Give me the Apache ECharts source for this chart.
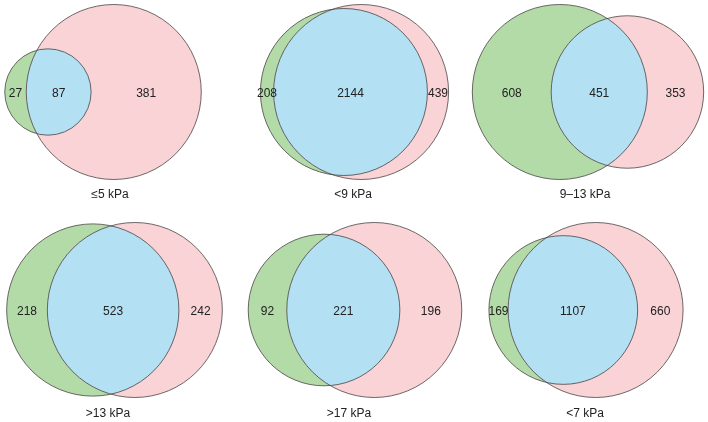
<!DOCTYPE html>
<html>
<head>
<meta charset="utf-8">
<script src="https://cdn.jsdelivr.net/npm/echarts@6/dist/echarts.min.js"></script>
<style>
html,body{margin:0;padding:0;background:#fff;}
#chart{width:708px;height:422px;}
</style>
</head>
<body>
<div id="chart"></div>
<script>
// ---- data ----
const panelLabels = ['≤5 kPa', '<9 kPa', '9–13 kPa', '>13 kPa', '>17 kPa', '<7 kPa'];
const leftOnly = [27, 208, 608, 218, 92, 169];
const both = [87, 2144, 451, 523, 221, 1107];
const rightOnly = [381, 439, 353, 242, 196, 660];

// ---- layout (positions in axis units) ----
const panelCenterX = [103, 354.5, 588, 114.5, 355, 586];
const panelCenterY = [92, 92, 92, 310, 310, 310];
const captionX = [110, 353, 585, 108, 349, 585];
const captionY = [195, 195, 195, 414, 414, 414];
const maxRadius = 87.5;

const GREEN = '#b3dba7', PINK = '#f9d3d5', BLUE = '#b3e0f3', EDGE = '#4a4444';

function lensArea(d, r1, r2) {
  if (d >= r1 + r2) return 0;
  if (d <= Math.abs(r1 - r2)) return Math.PI * Math.min(r1, r2) ** 2;
  const a1 = Math.acos((d * d + r1 * r1 - r2 * r2) / (2 * d * r1));
  const a2 = Math.acos((d * d + r2 * r2 - r1 * r1) / (2 * d * r2));
  const t = Math.sqrt((-d + r1 + r2) * (d + r1 - r2) * (d - r1 + r2) * (d + r1 + r2));
  return r1 * r1 * a1 + r2 * r2 * a2 - 0.5 * t;
}

function layout(i) {
  const n1 = leftOnly[i] + both[i], n2 = rightOnly[i] + both[i];
  const nmax = Math.max(n1, n2);
  const r1 = maxRadius * Math.sqrt(n1 / nmax);
  const r2 = maxRadius * Math.sqrt(n2 / nmax);
  const target = Math.PI * maxRadius * maxRadius * both[i] / nmax;
  let lo = Math.abs(r1 - r2) + 1e-6, hi = r1 + r2 - 1e-6;
  for (let k = 0; k < 80; k++) {
    const mid = (lo + hi) / 2;
    if (lensArea(mid, r1, r2) > target) lo = mid; else hi = mid;
  }
  const d = (lo + hi) / 2;
  const left = Math.min(-r1, d - r2), right = Math.max(r1, d + r2);
  const c1 = panelCenterX[i] - (left + right) / 2;
  const c2 = c1 + d;
  return { r1, r2, c1, c2, d, cy: panelCenterY[i] };
}

const seriesData = panelLabels.map((_, i) => [panelCenterX[i], panelCenterY[i], i]);

function renderItem(params, api) {
  const i = api.value(2);
  const L = layout(i);
  const p1 = api.coord([L.c1, L.cy]);
  const p2 = api.coord([L.c2, L.cy]);
  const pr1 = api.size([L.r1, 0])[0];
  const pr2 = api.size([L.r2, 0])[0];
  const dd = p2[0] - p1[0];
  // lens polygon
  const cos1 = (dd * dd + pr1 * pr1 - pr2 * pr2) / (2 * dd * pr1);
  const cos2 = (dd * dd + pr2 * pr2 - pr1 * pr1) / (2 * dd * pr2);
  const t1 = Math.acos(Math.max(-1, Math.min(1, cos1)));
  const t2 = Math.acos(Math.max(-1, Math.min(1, cos2)));
  const pts = [];
  const steps = 120;
  for (let k = 0; k <= steps; k++) {
    const a = -t1 + 2 * t1 * k / steps;
    pts.push([p1[0] + pr1 * Math.cos(a), p1[1] + pr1 * Math.sin(a)]);
  }
  for (let k = 0; k <= steps; k++) {
    const a = Math.PI - t2 + 2 * t2 * k / steps;
    pts.push([p2[0] + pr2 * Math.cos(a), p2[1] + pr2 * Math.sin(a)]);
  }
  const font = '12px "Liberation Sans", Arial, sans-serif';
  const ty = api.coord([0, L.cy + 2])[1];
  const xa = api.coord([( (L.c1 - L.r1) + (L.c2 - L.r2) ) / 2, 0])[0];
  const xb = api.coord([( (L.c2 - L.r2) + (L.c1 + L.r1) ) / 2, 0])[0];
  const xc = api.coord([( (L.c1 + L.r1) + (L.c2 + L.r2) ) / 2, 0])[0];
  const cap = api.coord([captionX[i], captionY[i]]);
  const txt = (x, y, s) => ({
    type: 'text',
    style: { x: x, y: y, text: s, font: font, fill: '#222', align: 'center', verticalAlign: 'middle' }
  });
  return {
    type: 'group',
    children: [
      { type: 'circle', shape: { cx: p1[0], cy: p1[1], r: pr1 }, style: { fill: GREEN } },
      { type: 'circle', shape: { cx: p2[0], cy: p2[1], r: pr2 }, style: { fill: PINK } },
      { type: 'polygon', shape: { points: pts }, style: { fill: BLUE } },
      { type: 'circle', shape: { cx: p1[0], cy: p1[1], r: pr1 }, style: { fill: 'none', stroke: EDGE, lineWidth: 0.8 } },
      { type: 'circle', shape: { cx: p2[0], cy: p2[1], r: pr2 }, style: { fill: 'none', stroke: EDGE, lineWidth: 0.8 } },
      txt(xa, ty, String(leftOnly[i])),
      txt(xb, ty, String(both[i])),
      txt(xc, ty, String(rightOnly[i])),
      txt(cap[0], cap[1], panelLabels[i])
    ]
  };
}

const chart = echarts.init(document.getElementById('chart'), null, { renderer: 'canvas' });
chart.setOption({
  backgroundColor: '#ffffff',
  animation: false,
  grid: { left: 0, right: 0, top: 0, bottom: 0 },
  xAxis: { type: 'value', min: 0, max: 708, show: false },
  yAxis: { type: 'value', min: 0, max: 422, inverse: true, show: false },
  series: [{
    type: 'custom',
    renderItem: renderItem,
    data: seriesData,
    clip: false
  }]
});
</script>
</body>
</html>
